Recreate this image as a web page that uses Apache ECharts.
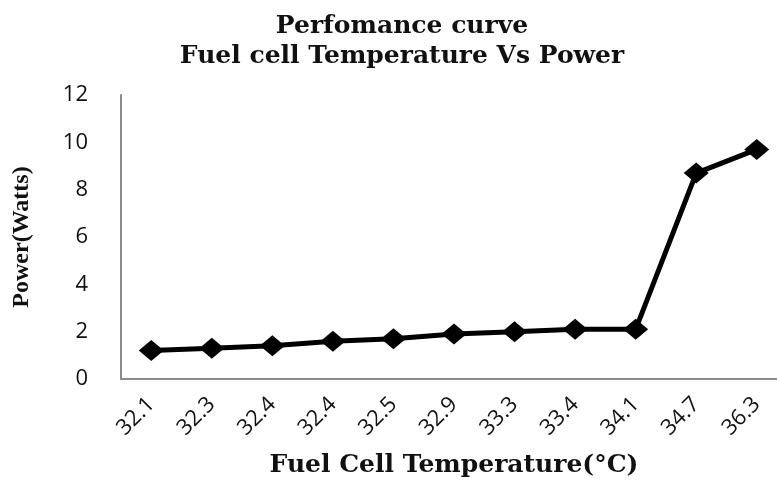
<!DOCTYPE html>
<html>
<head>
<meta charset="utf-8">
<script src="https://cdn.jsdelivr.net/npm/echarts@6/dist/echarts.min.js"></script>
<style>html,body{margin:0;padding:0;background:#fff}#c{width:777px;height:481px}</style>
</head>
<body>
<div id="c"></div>
<script>
var temperatures = ['32.1','32.3','32.4','32.4','32.5','32.9','33.3','33.4','34.1','34.7','36.3'];
var power = [1.2, 1.3, 1.4, 1.6, 1.7, 1.9, 2.0, 2.1, 2.1, 8.7, 9.7];
var yTicks = {min: 0, max: 12, interval: 2};
var titleText = 'Perfomance curve\nFuel cell Temperature Vs Power';
var xName = 'Fuel Cell Temperature(°C)';
var yName = 'Power(Watts)';

var chart = echarts.init(document.getElementById('c'), null, {renderer: 'canvas'});
chart.setOption({
  backgroundColor: '#fff',
  animation: false,
  title: {
    text: titleText,
    left: 397,
    top: 6,
    textAlign: 'center',
    textStyle: {fontFamily: 'DejaVu Serif', fontWeight: 'bold', fontSize: 25, lineHeight: 30, color: '#111', align: 'center'}
  },
  grid: {left: 121, right: -10, top: 95, bottom: 102, outerBoundsMode: 'none', containLabel: false},
  xAxis: {
    type: 'category',
    data: temperatures,
    boundaryGap: true,
    name: xName,
    nameLocation: 'middle',
    nameGap: 74,
    nameTextStyle: {fontFamily: 'DejaVu Serif', fontWeight: 'bold', fontSize: 25, color: '#111'},
    axisLine: {lineStyle: {color: '#8c8c8c', width: 2}},
    axisTick: {show: false},
    axisLabel: {rotate: 45, margin: 22, fontFamily: 'Open Sans', fontSize: 22, color: '#111'},
    splitLine: {show: false}
  },
  yAxis: {
    type: 'value',
    min: yTicks.min, max: yTicks.max, interval: yTicks.interval,
    name: yName,
    nameLocation: 'middle',
    nameGap: 87,
    nameRotate: 90,
    nameTextStyle: {fontFamily: 'Liberation Serif', fontWeight: 'bold', fontSize: 24, color: '#111'},
    axisLine: {show: true, lineStyle: {color: '#8c8c8c', width: 2}},
    axisTick: {show: false},
    axisLabel: {margin: 33, fontFamily: 'Open Sans', fontSize: 22, color: '#111'},
    splitLine: {show: false}
  },
  series: [{
    type: 'line',
    data: power,
    symbol: 'diamond',
    symbolSize: [25, 21],
    lineStyle: {color: '#000', width: 5},
    itemStyle: {color: '#000'}
  }]
});
</script>
</body>
</html>
